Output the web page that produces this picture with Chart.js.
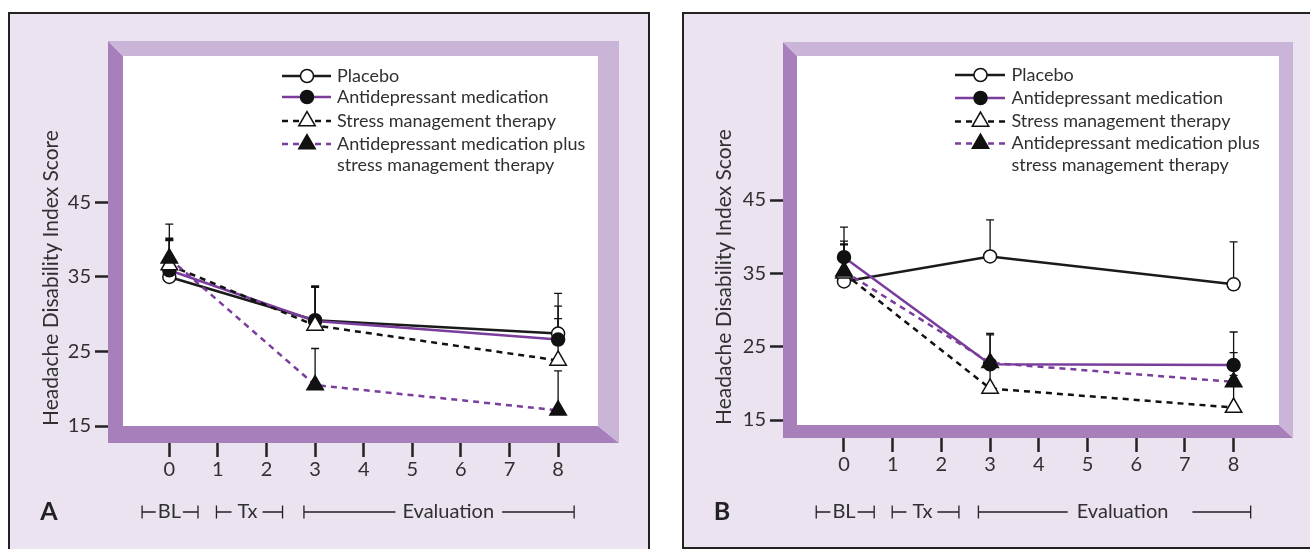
<!DOCTYPE html>
<html>
<head>
<meta charset="utf-8">
<script src="https://cdn.jsdelivr.net/npm/chart.js@4.4.1/dist/chart.umd.min.js"></script>
<style>
    body { margin: 0; width: 1310px; height: 549px; overflow: hidden; position: relative; background: #fff; }
    .panel { position: absolute; background: #ebe3f0; border: 2.5px solid #222; box-sizing: border-box; }
    #boxA { left: 8px; top: 12px; width: 642px; height: 560px; }
    #boxB { left: 682px; top: 12px; width: 640px; height: 537px; }
    canvas { position: absolute; top: 0; }
    #chartA { left: 0; }
    #chartB { left: 670px; }
</style>
</head>
<body>
<div class="panel" id="boxA"></div>
<div class="panel" id="boxB"></div>
<canvas id="chartA" width="660" height="549"></canvas>
<canvas id="chartB" width="640" height="549"></canvas>
<script>
"use strict";

// weeks of measurement
const weeks = [0, 3, 8];
const xTickValues = [0, 1, 2, 3, 4, 5, 6, 7, 8];
const yTickValues = [15, 25, 35, 45];
const seriesNames = [
    ["Placebo"],
    ["Antidepressant medication"],
    ["Stress management therapy"],
    ["Antidepressant medication plus", "stress management therapy"]
];
const yTitle = "Headache Disability Index Score";

// Panel A: means and top of error bars
const placeboA = [35.0, 29.2, 27.4];
const antidepA = [35.9, 29.1, 26.6];
const stressA = [36.6, 28.5, 23.8];
const comboA = [37.5, 20.5, 17.1];
const placeboErrA = [40.0, 33.7, 32.8];
const antidepErrA = [40.2, 33.8, 31.1];
const stressErrA = [39.9, 33.6, 29.4];
const comboErrA = [42.1, 25.4, 22.4];

// Panel B
const placeboB = [33.9, 37.3, 33.5];
const antidepB = [37.2, 22.6, 22.5];
const stressB = [35.0, 19.3, 16.7];
const comboB = [35.3, 22.8, 20.2];
const placeboErrB = [41.3, 42.3, 39.3];
const antidepErrB = [39.4, 26.8, 27.0];
const stressErrB = [38.9, 23.0, 21.1];
const comboErrB = [39.0, 26.6, 24.2];

const purple = "#7a3d9c";
const ink = "#303030";
const font = "Lato";

function pts(vals) {
    return weeks.map((w, i) => ({ x: w, y: vals[i] }));
}

function buildDatasets(vals, errs) {
    return [
        {
            label: seriesNames[0][0], data: pts(vals[0]), errTop: errs[0], order: 3,
            borderColor: "#1a1a1a", borderWidth: 2.5,
            pointStyle: "circle", pointRadius: 6.5,
            pointBackgroundColor: "#fff", pointBorderColor: "#111", pointBorderWidth: 1.5
        },
        {
            label: seriesNames[1][0], data: pts(vals[1]), errTop: errs[1], order: 2,
            borderColor: purple, borderWidth: 2.5,
            pointStyle: "circle", pointRadius: 6.5,
            pointBackgroundColor: "#111", pointBorderColor: "#111", pointBorderWidth: 1.5
        },
        {
            label: seriesNames[2][0], data: pts(vals[2]), errTop: errs[2], order: 1,
            borderColor: "#111", borderWidth: 2.5, borderDash: [6, 5],
            pointStyle: "triangle", pointRadius: 9.5,
            pointBackgroundColor: "#fff", pointBorderColor: "#111", pointBorderWidth: 1.5
        },
        {
            label: seriesNames[3].join(" "), data: pts(vals[3]), errTop: errs[3], order: 0,
            borderColor: purple, borderWidth: 2.5, borderDash: [6, 5],
            pointStyle: "triangle", pointRadius: 9.5,
            pointBackgroundColor: "#111", pointBorderColor: "#111", pointBorderWidth: 1.5
        }
    ];
}

// frame, error bars, legend, bottom brackets
const panelPlugin = {
    id: "panel",
    beforeDraw(chart) {
        const { ctx, chartArea: a } = chart;
        ctx.save();
        ctx.fillStyle = "#fff";
        ctx.fillRect(a.left, a.top, a.right - a.left, a.bottom - a.top);
        ctx.restore();
    },
    beforeDatasetsDraw(chart, args, o) {
        const { ctx, chartArea: a } = chart;
        const [x0, y0, x1, y1] = o.frame;
        ctx.save();
        // dark bevel: left + bottom
        ctx.fillStyle = "#a780bb";
        ctx.beginPath();
        ctx.moveTo(x0, y0); ctx.lineTo(a.left, a.top); ctx.lineTo(a.left, a.bottom);
        ctx.lineTo(a.right, a.bottom); ctx.lineTo(x1, y1); ctx.lineTo(x0, y1);
        ctx.closePath(); ctx.fill();
        // light bevel: top + right
        ctx.fillStyle = "#cab5d9";
        ctx.beginPath();
        ctx.moveTo(x0, y0); ctx.lineTo(x1, y0); ctx.lineTo(x1, y1);
        ctx.lineTo(a.right, a.bottom); ctx.lineTo(a.right, a.top); ctx.lineTo(a.left, a.top);
        ctx.closePath(); ctx.fill();

        // one-sided error bars
        const xs = chart.scales.x, ys = chart.scales.y;
        ctx.strokeStyle = "#111";
        ctx.lineWidth = 1.3;
        chart.data.datasets.forEach(ds => {
            ds.data.forEach((p, i) => {
                const px = xs.getPixelForValue(p.x);
                const py = ys.getPixelForValue(p.y);
                const pt = ys.getPixelForValue(ds.errTop[i]);
                ctx.beginPath();
                ctx.moveTo(px, py); ctx.lineTo(px, pt);
                ctx.moveTo(px - 4, pt); ctx.lineTo(px + 4, pt);
                ctx.stroke();
            });
        });
        ctx.restore();
    },
    afterDraw(chart, args, o) {
        const { ctx } = chart;
        const L = o.legend;
        ctx.save();
        chart.data.datasets.forEach((ds, i) => {
            const y = L.rows[i];
            ctx.strokeStyle = ds.borderColor;
            ctx.lineWidth = ds.borderWidth;
            ctx.setLineDash(ds.borderDash || []);
            ctx.beginPath(); ctx.moveTo(L.x0, y); ctx.lineTo(L.x1, y); ctx.stroke();
            ctx.setLineDash([]);
            ctx.fillStyle = ds.pointBackgroundColor;
            ctx.strokeStyle = ds.pointBorderColor;
            ctx.lineWidth = ds.pointBorderWidth;
            Chart.helpers.drawPoint(ctx, {
                pointStyle: ds.pointStyle, rotation: 0,
                radius: ds.pointRadius, borderWidth: ds.pointBorderWidth
            }, L.mark, y);
            ctx.fillStyle = ink;
            ctx.font = "18px " + font;
            ctx.textBaseline = "middle";
            ctx.textAlign = "left";
            seriesNames[i].forEach((t, k) => ctx.fillText(t, L.text, y + k * L.lineGap));
        });

        // BL / Tx / Evaluation brackets
        const xs = chart.scales.x;
        const by = o.bracketY;
        ctx.strokeStyle = "#222";
        ctx.lineWidth = 1.3;
        ctx.font = "20px " + font;
        ctx.fillStyle = ink;
        ctx.textAlign = "center";
        o.brackets.forEach(b => {
            const a = xs.getPixelForValue(b.from), e = xs.getPixelForValue(b.to);
            const c = xs.getPixelForValue(b.textAt);
            const w = ctx.measureText(b.text).width;
            ctx.beginPath();
            ctx.moveTo(a, by - 6.5); ctx.lineTo(a, by + 6.5);
            ctx.moveTo(e, by - 6.5); ctx.lineTo(e, by + 6.5);
            ctx.moveTo(a, by); ctx.lineTo(c - w / 2 - b.gapL, by);
            ctx.moveTo(c + w / 2 + b.gapR, by); ctx.lineTo(e, by);
            ctx.stroke();
            ctx.fillText(b.text, c, by);
        });

        // panel letter
        ctx.font = "bold 25px " + font;
        ctx.fillStyle = "#222";
        ctx.fillText(o.letter, o.letterX, by);
        ctx.restore();
    }
};

function makeChart(id, vals, errs, cfg) {
    return new Chart(document.getElementById(id), {
        type: "line",
        data: { datasets: buildDatasets(vals, errs) },
        options: {
            responsive: false,
            animation: false,
            events: [],
            layout: { padding: { left: 0, top: 56, right: cfg.padRight, bottom: 0 } },
            scales: {
                x: {
                    type: "linear", min: cfg.xMin, max: cfg.xMax,
                    afterBuildTicks: s => { s.ticks = xTickValues.map(v => ({ value: v })); },
                    afterFit: s => { s.height = cfg.xHeight; },
                    grid: { drawOnChartArea: false, tickLength: cfg.xTickLen, tickWidth: 2.5, tickColor: "#222" },
                    border: { display: false },
                    ticks: { color: ink, font: { family: font, size: 20 }, padding: 1, maxRotation: 0, autoSkip: false }
                },
                y: {
                    type: "linear", min: cfg.yMin, max: cfg.yMax,
                    afterBuildTicks: s => { s.ticks = yTickValues.map(v => ({ value: v })); },
                    afterFit: s => { s.width = cfg.yWidth; },
                    grid: { drawOnChartArea: false, tickLength: cfg.yTickLen, tickWidth: 2.5, tickColor: "#222" },
                    border: { display: false },
                    ticks: { color: ink, font: { family: font, size: 20 }, padding: 4 },
                    title: {
                        display: true, text: yTitle, align: "start", color: ink,
                        font: { family: font, size: 21 }, padding: { top: cfg.titlePad, bottom: 0 }
                    }
                }
            },
            plugins: {
                legend: { display: false },
                tooltip: { enabled: false },
                panel: {
                    frame: cfg.frame,
                    legend: cfg.legend,
                    bracketY: 512,
                    brackets: cfg.brackets,
                    letter: cfg.letter,
                    letterX: cfg.letterX
                }
            }
        },
        plugins: [panelPlugin]
    });
}

makeChart("chartA",
    [placeboA, antidepA, stressA, comboA],
    [placeboErrA, antidepErrA, stressErrA, comboErrA],
    {
        padRight: 62, xHeight: 123, yWidth: 123,
        xMin: -0.953, xMax: 8.821, yMin: 15, yMax: 64.66,
        xTickLen: 31, yTickLen: 28, titlePad: 39,
        frame: [108, 41, 619, 443],
        legend: { x0: 282, x1: 331, mark: 307, text: 337, rows: [76, 97, 121, 144], lineGap: 21.5 },
        letter: "A", letterX: 49,
        brackets: [
            { from: -0.56, to: 0.59, text: "BL", textAt: 0.0, gapL: 2, gapR: 2 },
            { from: 0.97, to: 2.33, text: "Tx", textAt: 1.61, gapL: 6, gapR: 5 },
            { from: 2.77, to: 8.33, text: "Evaluation", textAt: 5.74, gapL: 7, gapR: 8 }
        ]
    });

makeChart("chartB",
    [placeboB, antidepB, stressB, comboB],
    [placeboErrB, antidepErrB, stressErrB, comboErrB],
    {
        padRight: 31, xHeight: 124, yWidth: 127,
        xMin: -0.965, xMax: 8.932, yMin: 14.32, yMax: 64.64,
        xTickLen: 27, yTickLen: 27, titlePad: 42,
        frame: [113, 42, 623, 438],
        legend: { x0: 285, x1: 335, mark: 310.5, text: 341.5, rows: [75, 98, 121.5, 143.5], lineGap: 21.5 },
        letter: "B", letterX: 52,
        brackets: [
            { from: -0.57, to: 0.62, text: "BL", textAt: 0.0, gapL: 2, gapR: 2 },
            { from: 0.99, to: 2.36, text: "Tx", textAt: 1.61, gapL: 6, gapR: 5 },
            { from: 2.76, to: 8.35, text: "Evaluation", textAt: 5.72, gapL: 9, gapR: 24 }
        ]
    });
</script>
</body>
</html>
